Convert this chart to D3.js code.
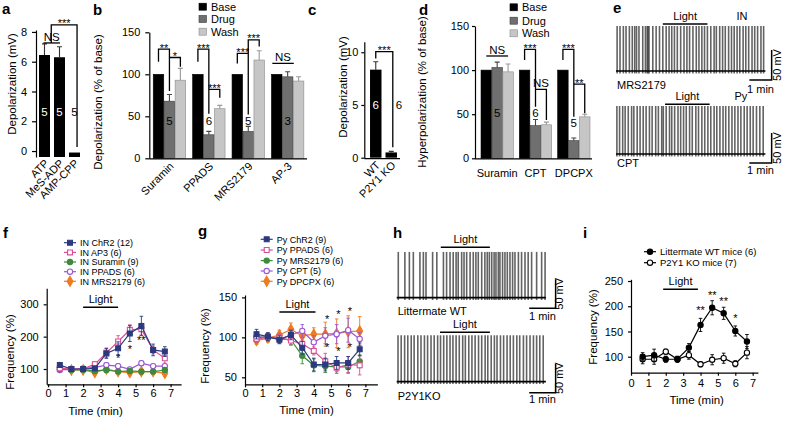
<!DOCTYPE html>
<html><head><meta charset="utf-8">
<script src="https://cdn.jsdelivr.net/npm/d3@7"></script>
<style>
body{margin:0;background:#fff;}
svg{display:block;font-family:Arial,"Liberation Sans",Helvetica,sans-serif;}
</style></head><body>
<svg id="fig" width="788" height="421"></svg>
<script>
// ---------------- DATA ----------------
// panel a
const aCategories = ["ATP", "MeS-ADP", "AMP-CPP"];
const aValues = [6.45, 6.3, -0.1];
const aErrors = [0.75, 0.7, 0];
const aN = [5, 5, 5];
const aTicks = [0, 2, 4, 6, 8];
// panel b
const conditions = ["Base", "Drug", "Wash"];
const bGroups = ["Suramin", "PPADS", "MRS2179", "AP-3"];
const bValues = [[100, 68, 93], [100, 28, 59], [100, 32, 117], [100, 97, 92]];
const bErrors = [[0, 8, 14], [0, 4, 4], [0, 6, 11], [0, 6, 5]];
const bN = [5, 6, 5, 3];
const bTicks = [0, 50, 100, 150];
// panel c
const cCategories = ["WT", "P2Y1 KO"];
const cValues = [8.35, 0.5];
const cErrors = [0.75, 0.1];
const cN = [6, 6];
const cTicks = [0, 5, 10];
// panel d
const dGroups = ["Suramin", "CPT", "DPCPX"];
const dValues = [[100, 103, 98], [100, 37, 38], [100, 20, 47]];
const dErrors = [[0, 6, 9], [0, 7, 3], [0, 3, 3]];
const dN = [5, 6, 5];
const dTicks = [0, 50, 100, 150];
// significance brackets (data units; s = condition index within group)
const aBrackets = [
  {s1: -0.07, s2: 1.03, top: 7.26, label: "NS"},
  {s1: 0.45, s2: 2.17, top: 8.47, b1: 7.26, b2: 0.27, label: "***"}
];
const bBrackets = [
  {g: 0, s1: 0, s2: 1, top: 130, b1: 115, b2: 80, label: "**"},
  {g: 0, s1: 1, s2: 2, top: 120, b1: 120, b2: 109, label: "*"},
  {g: 1, s1: 0, s2: 1, top: 130, b1: 115, b2: 53, label: "***"},
  {g: 1, s1: 1, s2: 2, top: 82, b1: 82, b2: 72, label: "***"},
  {g: 2, s1: 0, s2: 1, top: 125, b1: 113, b2: 52, label: "***"},
  {g: 2, s1: 1, s2: 2, top: 141, b1: 125, b2: 133, label: "***"},
  {g: 3, s1: -0.4, s2: 1.56, top: 113, label: "NS"}
];
const cBrackets = [{s1: 0, s2: 1.1, top: 10.05, b1: 9.4, b2: 1.0, label: "***"}];
const dBrackets = [
  {g: 0, s1: 0, s2: 2, top: 116, label: "NS"},
  {g: 1, s1: 0, s2: 1, top: 123.6, b1: 111.5, b2: 58.5, label: "***"},
  {g: 1, s1: 1, s2: 2, top: 78.2, b1: 78.2, b2: 43.4, label: "NS"},
  {g: 2, s1: 0, s2: 1, top: 123.6, b1: 111.5, b2: 47, label: "***"},
  {g: 2, s1: 1, s2: 2, top: 84.2, b1: 84.2, b2: 51, label: "**"}
];

// time course panels
const timePoints = [0.67, 1.33, 2, 2.67, 3.33, 4, 4.67, 5.33, 6, 6.67];
const timeTicks = [0, 1, 2, 3, 4, 5, 6, 7];
const fNames = ["IN ChR2 (12)", "IN AP3 (6)", "IN Suramin (9)", "IN PPADS (6)", "IN MRS2179 (6)"];
const fValues = [
  [112, 100, 100, 102, 148, 164, 210, 233, 159, 154],
  [102, 100, 100, 115, 150, 185, 221, 223, 159, 133],
  [100, 97, 97, 94, 97, 92, 94, 92, 92, 97],
  [97, 99, 102, 105, 112, 109, 99, 118, 109, 109],
  [105, 97, 97, 89, 100, 92, 89, 92, 92, 87]
];
const fErrors = [
  [6, 5, 5, 6, 15, 20, 25, 30, 18, 15],
  [6, 5, 5, 8, 15, 18, 15, 18, 12, 15],
  [5, 5, 5, 6, 6, 6, 6, 6, 6, 6],
  [6, 5, 5, 6, 8, 8, 6, 8, 6, 6],
  [6, 5, 5, 6, 8, 6, 10, 8, 8, 10]
];
const fStars = [{t: 4, v: 135, s: "*"}, {t: 4.67, v: 164, s: "*"}, {t: 5.33, v: 190, s: "**"}];
const gNames = ["Py ChR2 (9)", "Py PPADS (6)", "Py MRS2179 (6)", "Py CPT (5)", "Py DPCPX (6)"];
const gValues = [
  [104, 101, 97, 103, 87, 66, 66, 68, 68, 85],
  [98, 100, 100, 96, 92, 83, 70, 62, 66, 65],
  [100, 100, 98, 97, 77, 65, 64, 63, 63, 70],
  [101, 100, 98, 103, 108, 94, 102, 104, 109, 98],
  [96, 99, 103, 110, 102, 104, 104, 105, 107, 108]
];
const gErrors = [
  [6, 5, 5, 6, 8, 8, 8, 8, 8, 8],
  [5, 5, 5, 6, 8, 5, 10, 5, 10, 12],
  [6, 5, 5, 6, 10, 8, 8, 8, 8, 8],
  [6, 5, 5, 6, 8, 8, 10, 12, 15, 8],
  [5, 5, 6, 8, 8, 8, 15, 18, 20, 18]
];
const gStars = [
  {t: 4.77, v: 124, s: "*"}, {t: 5.43, v: 130, s: "*"}, {t: 6.1, v: 133, s: "*"},
  {t: 4.77, v: 88, s: "*"}, {t: 5.43, v: 83, s: "*"}, {t: 6.1, v: 88, s: "*"}
];
const iNames = ["Littermate WT mice (6)", "P2Y1 KO mice (7)"];
const iValues = [
  [100, 103, 95, 95, 118, 163, 197, 186, 151, 130],
  [95, 95, 110, 95, 103, 85, 94, 97, 86, 108]
];
const iErrors = [
  [8, 12, 6, 6, 8, 13, 14, 12, 10, 14],
  [9, 10, 5, 5, 8, 5, 10, 10, 6, 12]
];
const iStars = [{t: 4, v: 194, s: "**"}, {t: 4.67, v: 224, s: "**"}, {t: 5.33, v: 212, s: "**"}, {t: 6, v: 178, s: "*"}];

// spike times (min) of the recordings
const eTopSpikes = [0.05,0.18,0.33,0.45,0.6,0.73,0.84,0.92,1.03,1.2,1.32,1.4,1.44,1.48,1.65,1.8,1.95,2.1,2.25,2.38,2.5,2.62,2.75,2.9,3.05,3.18,3.3,3.45,3.6,3.72,3.85,3.97,4.1,4.25,4.4,4.5,4.65,4.78,4.9,5.05,5.18,5.3,5.43,5.55,5.7,5.82,5.95,6.1,6.22,6.35,6.5,6.62];
const eBotSpikes = [0.04,0.16,0.3,0.41,0.55,0.7,0.8,0.95,1.08,1.22,1.35,1.5,1.62,1.78,1.9,2.05,2.12,2.25,2.4,2.5,2.63,2.78,2.9,3.03,3.15,3.3,3.42,3.58,3.7,3.85,3.98,4.12,4.25,4.4,4.52,4.66,4.8,4.92,5.06,5.2,5.33,5.47,5.6,5.75,5.88,6.02,6.15,6.3,6.45,6.6];
const hTopSpikes = [0.06,0.31,0.48,0.63,0.88,1.01,1.11,1.36,1.52,1.77,1.89,2.02,2.14,2.25,2.33,2.46,2.55,2.65,2.78,2.9,3.0,3.09,3.22,3.34,3.43,3.51,3.6,3.69,3.76,3.85,3.91,4.01,4.1,4.19,4.29,4.39,4.48,4.61,4.73,4.86,4.98,5.11,5.3,5.49,5.62];
const hBotSpikes = [0.05,0.17,0.3,0.42,0.55,0.66,0.8,0.92,1.05,1.17,1.3,1.42,1.55,1.66,1.78,1.9,2.02,2.13,2.25,2.37,2.5,2.6,2.73,2.85,2.97,3.1,3.22,3.35,3.45,3.58,3.7,3.8,3.93,4.05,4.18,4.3,4.42,4.55,4.66,4.8,4.92,5.05,5.18,5.3,5.42,5.55];

// ---------------- STYLE ----------------
const condFill = {Base: "#000", Drug: "#6f6f6f", Wash: "#c6c6c6"};
const condStroke = {Base: "#000", Drug: "#3a3a3a", Wash: "#8a8a8a"};
const condErr = {Base: "#222", Drug: "#444", Wash: "#999"};
const fColors = ["#2b3a7e", "#d84f98", "#3d8b3d", "#9b57d4", "#ef7b22"];
const fShapes = ["squareF", "squareO", "circleF", "circleO", "diamondF"];
const gColors = ["#2b3a7e", "#d84f98", "#3d8b3d", "#9b57d4", "#ef7b22"];
const gShapes = ["squareF", "squareO", "circleF", "circleO", "diamondF"];
const iColors = ["#000", "#000"];
const iShapes = ["circleF", "circleO"];

const svg = d3.select("#fig");
const TICK_FS = 11;

function styleAxis(sel, fs) {
  sel.attr("font-family", null).attr("font-size", null);
  sel.selectAll("text").attr("font-size", fs).attr("fill", "#000");
  sel.select(".domain").attr("stroke", "#000").attr("stroke-width", 1.2);
  sel.selectAll(".tick line").attr("stroke", "#000").attr("stroke-width", 1.2);
}
function letter(t, x, y) {
  svg.append("text").attr("x", x).attr("y", y).attr("font-size", 15).attr("font-weight", "bold").text(t);
}
function yTitle(t, x, yc, fs) {
  svg.append("text").attr("transform", `translate(${x},${yc}) rotate(-90)`)
    .attr("text-anchor", "middle").attr("font-size", fs).text(t);
}
function drawBracket(g, b, px, y) {
  const x1 = px(b), x2 = px2(b, px);
  const yt = y(b.top);
  let d = `M${x1},${yt}H${x2}`;
  if (b.b1 !== undefined && b.b1 !== b.top) d = `M${x1},${y(b.b1)}V${yt}H${x2}`;
  if (b.b2 !== undefined) d += `V${y(b.b2)}`;
  g.append("path").attr("d", d).attr("fill", "none").attr("stroke", "#000").attr("stroke-width", 1.3);
  const isStar = b.label.indexOf("*") >= 0;
  g.append("text").attr("x", (x1 + x2) / 2).attr("y", isStar ? yt + 2.5 : yt - 2)
    .attr("text-anchor", "middle").attr("font-size", isStar ? 11 : 11.5).text(b.label);
}
function px2(b, px) { return px({g: b.g, s1: b.s2}); }

// ---------- simple bar panels (a, c) ----------
function simpleBars(cfg) {
  const g = svg.append("g");
  const x = d3.scaleBand().domain(cfg.cats).range(cfg.xRange).paddingInner(cfg.padIn).paddingOuter(cfg.padOut);
  const y = d3.scaleLinear().domain(cfg.yDomain).range(cfg.yRange);
  const pos = i => x(cfg.cats[0]) + x.bandwidth() / 2 + i * x.step();
  const base = cfg.fromBottom ? cfg.yRange[0] : y(0);
  g.selectAll("rect").data(cfg.values).join("rect")
    .attr("x", (d, i) => x(cfg.cats[i])).attr("width", x.bandwidth())
    .attr("y", d => Math.min(y(d), base)).attr("height", d => Math.abs(base - y(d)))
    .attr("fill", "#000");
  cfg.values.forEach((v, i) => {
    if (cfg.errors[i] > 0) {
      const cx = pos(i);
      g.append("path").attr("d", `M${cx},${y(v)}V${y(v + cfg.errors[i])}M${cx - 2.5},${y(v + cfg.errors[i])}H${cx + 2.5}`)
        .attr("stroke", "#333").attr("stroke-width", 1.1).attr("fill", "none");
    }
  });
  const ax = g.append("g").attr("transform", `translate(${cfg.xRange[0]},0)`)
    .call(d3.axisLeft(y).tickValues(cfg.ticks).tickSize(cfg.tickSize).tickPadding(cfg.tickPad).tickSizeOuter(0));
  styleAxis(ax, TICK_FS);
  if (cfg.xAxis) {
    g.append("line").attr("x1", cfg.xRange[0]).attr("x2", cfg.xAxisEnd).attr("y1", y(0) + 1).attr("y2", y(0) + 1)
      .attr("stroke", "#000").attr("stroke-width", 1.2);
  }
  cfg.nLabels.forEach(n => {
    g.append("text").attr("x", pos(n.i)).attr("y", y(n.v) + 4).attr("text-anchor", "middle")
      .attr("font-size", 11.5).attr("fill", n.c).text(n.t);
  });
  cfg.cats.forEach((c, i) => {
    g.append("text").attr("transform", `translate(${pos(i) + 5},${cfg.labelY}) rotate(-45)`)
      .attr("text-anchor", "end").attr("font-size", TICK_FS).text(c);
  });
  cfg.brackets.forEach(b => drawBracket(g, b, bb => pos(bb.s1), y));
}

// ---------- grouped bar panels (b, d) ----------
function groupedBars(cfg) {
  const g = svg.append("g");
  const xg = d3.scaleBand().domain(cfg.groups).range(cfg.xRange).paddingInner(cfg.padIn).paddingOuter(cfg.padOut);
  const xs = d3.scaleBand().domain(conditions).range([0, xg.bandwidth()]).paddingInner(0.04);
  const y = d3.scaleLinear().domain(cfg.yDomain).range(cfg.yRange);
  const pos = (gi, s) => xg(cfg.groups[gi]) + xs(conditions[0]) + xs.bandwidth() / 2 + s * xs.step();
  cfg.groups.forEach((grp, gi) => {
    conditions.forEach((c, si) => {
      const v = cfg.values[gi][si];
      g.append("rect").attr("x", xg(grp) + xs(c)).attr("width", xs.bandwidth())
        .attr("y", y(v)).attr("height", y(0) - y(v))
        .attr("fill", condFill[c]).attr("stroke", condStroke[c]).attr("stroke-width", 0.6);
      const e = cfg.errors[gi][si];
      if (e > 0) {
        const cx = pos(gi, si);
        g.append("path").attr("d", `M${cx},${y(v)}V${y(v + e)}M${cx - 2.5},${y(v + e)}H${cx + 2.5}`)
          .attr("stroke", condErr[c]).attr("stroke-width", 1.1).attr("fill", "none");
      }
    });
  });
  const ax = g.append("g").attr("transform", `translate(${cfg.xRange[0]},0)`)
    .call(d3.axisLeft(y).tickValues(cfg.ticks).tickSize(cfg.tickSize).tickPadding(cfg.tickPad).tickSizeOuter(0));
  styleAxis(ax, TICK_FS);
  g.append("line").attr("x1", cfg.xRange[0]).attr("x2", cfg.xAxisEnd).attr("y1", y(0) + 0.6).attr("y2", y(0) + 0.6)
    .attr("stroke", "#000").attr("stroke-width", 1.2);
  cfg.nLabels.forEach((n, gi) => {
    g.append("text").attr("x", pos(gi, 1)).attr("y", y(cfg.nY[gi]) + 4).attr("text-anchor", "middle")
      .attr("font-size", 11.5).text(n);
  });
  cfg.groups.forEach((grp, gi) => {
    if (cfg.rotate) {
      g.append("text").attr("transform", `translate(${pos(gi, 1) + 5},${cfg.labelY}) rotate(-45)`)
        .attr("text-anchor", "end").attr("font-size", TICK_FS).text(grp);
    } else {
      g.append("text").attr("x", pos(gi, 1)).attr("y", cfg.labelY).attr("text-anchor", "middle")
        .attr("font-size", TICK_FS).text(grp);
    }
  });
  cfg.brackets.forEach(b => drawBracket(g, b, bb => pos(bb.g, bb.s1), y));
  // legend
  conditions.forEach((c, i) => {
    const ly = cfg.legendY[i];
    g.append("rect").attr("x", cfg.legendX).attr("y", ly - 3.5).attr("width", 7.5).attr("height", 7)
      .attr("fill", condFill[c]).attr("stroke", condStroke[c]).attr("stroke-width", 0.6);
    g.append("text").attr("x", cfg.legendX + 12).attr("y", ly + 4).attr("font-size", 11).text(c);
  });
}

// ---------- marker helper ----------
function marker(g, shape, color, x, y) {
  const filled = shape.endsWith("F");
  const type = shape.startsWith("square") ? d3.symbolSquare : shape.startsWith("circle") ? d3.symbolCircle : d3.symbolDiamond;
  const size = shape.startsWith("square") ? 24 : shape.startsWith("circle") ? 22 : 30;
  g.append("path").attr("d", d3.symbol().type(type).size(size)())
    .attr("transform", `translate(${x},${y})`)
    .attr("fill", filled ? color : "#fff").attr("stroke", color).attr("stroke-width", 1.1);
}

// ---------- time-course panels ----------
function linePanel(cfg) {
  const g = svg.append("g");
  const x = d3.scaleLinear().domain(cfg.xDomain).range(cfg.xRange);
  const y = d3.scaleLinear().domain(cfg.yDomain).range(cfg.yRange);
  const xa = g.append("g").attr("transform", `translate(0,${cfg.yRange[0]})`)
    .call(d3.axisBottom(x).tickValues(timeTicks).tickSize(3).tickPadding(cfg.xPad).tickSizeOuter(0));
  styleAxis(xa, TICK_FS);
  const ya = g.append("g").attr("transform", `translate(${cfg.xRange[0]},0)`)
    .call(d3.axisLeft(y).tickValues(cfg.yTicks).tickSize(3).tickPadding(5).tickSizeOuter(0));
  styleAxis(ya, TICK_FS);
  // light bar
  g.append("line").attr("x1", x(cfg.light[0])).attr("x2", x(cfg.light[1]))
    .attr("y1", y(cfg.lightV)).attr("y2", y(cfg.lightV)).attr("stroke", "#000").attr("stroke-width", 1.5);
  g.append("text").attr("x", (x(cfg.light[0]) + x(cfg.light[1])) / 2).attr("y", y(cfg.lightV) - 4)
    .attr("text-anchor", "middle").attr("font-size", 11).text("Light");
  // series (last drawn first so the first series is on top)
  for (let k = cfg.values.length - 1; k >= 0; k--) {
    const col = cfg.colors[k];
    const vals = cfg.values[k], errs = cfg.errors[k];
    const sg = g.append("g");
    vals.forEach((v, i) => {
      const cx = x(timePoints[i]);
      sg.append("path").attr("d", `M${cx},${y(v - errs[i])}V${y(v + errs[i])}M${cx - 1.8},${y(v - errs[i])}H${cx + 1.8}M${cx - 1.8},${y(v + errs[i])}H${cx + 1.8}`)
        .attr("stroke", col).attr("stroke-width", 0.9).attr("fill", "none");
    });
    sg.append("path").datum(vals)
      .attr("d", d3.line().x((d, i) => x(timePoints[i])).y(d => y(d)))
      .attr("fill", "none").attr("stroke", col).attr("stroke-width", 1.2);
    vals.forEach((v, i) => marker(sg, cfg.shapes[k], col, x(timePoints[i]), y(v)));
  }
  cfg.stars.forEach(s => {
    g.append("text").attr("x", x(s.t)).attr("y", y(s.v) + 4.5).attr("text-anchor", "middle")
      .attr("font-size", 11).text(s.s);
  });
  // legend
  cfg.names.forEach((n, k) => {
    const ly = cfg.legendY[k];
    g.append("line").attr("x1", cfg.legendX - 6).attr("x2", cfg.legendX + 6).attr("y1", ly).attr("y2", ly)
      .attr("stroke", cfg.colors[k]).attr("stroke-width", 1.2);
    marker(g, cfg.shapes[k], cfg.colors[k], cfg.legendX, ly);
    g.append("text").attr("x", cfg.legendX + 10).attr("y", ly + 3.3).attr("font-size", cfg.legendFs).text(n);
  });
  g.append("text").attr("x", cfg.xTitle[0]).attr("y", cfg.xTitle[1]).attr("text-anchor", "middle")
    .attr("font-size", 11.5).text("Time (min)");
}

// ---------- recordings ----------
const RESTING = -65;
function tracePanel(cfg) {
  const g = svg.append("g");
  const x = d3.scaleLinear().domain([0, cfg.duration]).range([cfg.x0, cfg.x0 + cfg.duration * cfg.pxPerMin]);
  const y = d3.scaleLinear().domain([RESTING, cfg.peak]).range([cfg.baseY, cfg.baseY - (cfg.peak - RESTING) * cfg.pxPerMV]);
  g.selectAll("line.spk").data(cfg.spikes).join("line").attr("class", "spk")
    .attr("x1", d => x(d)).attr("x2", d => x(d))
    .attr("y1", y(RESTING - 4)).attr("y2", y(cfg.peak))
    .attr("stroke", "#3c3c3c").attr("stroke-opacity", 0.8).attr("stroke-width", 1.6);
  g.append("line").attr("x1", x(0)).attr("x2", x(cfg.duration)).attr("y1", y(RESTING)).attr("y2", y(RESTING))
    .attr("stroke", "#000").attr("stroke-width", 1.7);
  // light
  g.append("line").attr("x1", x(cfg.light[0])).attr("x2", x(cfg.light[1]))
    .attr("y1", y(cfg.lightMV)).attr("y2", y(cfg.lightMV)).attr("stroke", "#000").attr("stroke-width", 1.4);
  g.append("text").attr("x", (x(cfg.light[0]) + x(cfg.light[1])) / 2).attr("y", y(cfg.lightMV) - 4)
    .attr("text-anchor", "middle").attr("font-size", 11).attr("fill", "#000").text("Light");
  if (cfg.tag) {
    g.append("text").attr("x", x(cfg.tagT)).attr("y", y(cfg.lightMV) - 4).attr("text-anchor", "middle")
      .attr("font-size", 11).text(cfg.tag);
  }
  // scale bar 1 min x 50 mV
  const sx = x(cfg.scaleEnd), sy = y(cfg.scaleBottom);
  g.append("path").attr("d", `M${x(cfg.scaleEnd - 1)},${sy}H${sx}V${y(cfg.scaleBottom + 50)}`)
    .attr("fill", "none").attr("stroke", "#000").attr("stroke-width", 1.5);
  g.append("text").attr("transform", `translate(${sx + cfg.mvDx},${(sy + y(cfg.scaleBottom + 50)) / 2}) rotate(-90)`)
    .attr("text-anchor", "middle").attr("font-size", 11).text("50 mV");
  g.append("text").attr("x", (x(cfg.scaleEnd - 1) + sx) / 2).attr("y", sy + cfg.minDy).attr("text-anchor", "middle")
    .attr("font-size", 11).text("1 min");
  g.append("text").attr("x", x(0) + 1).attr("y", cfg.baseY + cfg.nameDy).attr("font-size", 11).text(cfg.name);
}

// ================= DRAW =================
letter("a", 2, 14); letter("b", 93, 15); letter("c", 308, 15); letter("d", 419, 15); letter("e", 613, 13);
letter("f", 3, 238); letter("g", 198, 236); letter("h", 393, 238); letter("i", 583, 238);

simpleBars({cats: aCategories, values: aValues, errors: aErrors, xRange: [36, 83], padIn: 0.267, padOut: 0.2,
  yDomain: [-0.4, 8.13], yRange: [157, 30], ticks: aTicks, tickSize: 4, tickPad: 5, fromBottom: true,
  nLabels: aN.map((n, i) => ({i: i, v: 2.62, t: n, c: i < 2 ? "#fff" : "#000"})),
  labelY: 164, brackets: aBrackets});
yTitle("Depolarization (mV)", 15.5, 84, 11.5);

groupedBars({groups: bGroups, values: bValues, errors: bErrors, xRange: [149.3, 307.8], padIn: 0.178, padOut: 0.1,
  yDomain: [0, 150], yRange: [158.3, 32.3], ticks: bTicks, tickSize: 4, tickPad: 5, xAxisEnd: 307,
  nLabels: bN, nY: [44, 44, 44, 44], rotate: true, labelY: 167, brackets: bBrackets,
  legendX: 199, legendY: [6.7, 19, 31.7]});
yTitle("Depolarization (% of base)", 102.3, 102, 11.5);

simpleBars({cats: cCategories, values: cValues, errors: cErrors, xRange: [364.3, 402.7], padIn: 0.26, padOut: 0.37,
  yDomain: [0, 11], yRange: [157.7, 41.7], ticks: cTicks, tickSize: 3, tickPad: 3, fromBottom: false,
  xAxis: true, xAxisEnd: 400,
  nLabels: [{i: 0, v: 5, t: cN[0], c: "#fff"}, {i: 1.5, v: 5, t: cN[1], c: "#000"}],
  labelY: 166, brackets: cBrackets});
yTitle("Depolarization (mV)", 347.3, 87, 11.5);

groupedBars({groups: dGroups, values: dValues, errors: dErrors, xRange: [475, 596], padIn: 0.157, padOut: 0.157,
  yDomain: [0, 150], yRange: [158.3, 26], ticks: dTicks, tickSize: 3, tickPad: 3, xAxisEnd: 592,
  nLabels: dN, nY: [51.4, 51.4, 40], rotate: false, labelY: 177, brackets: dBrackets,
  legendX: 510, legendY: [7.3, 20.7, 33.3]});
yTitle("Hyperpolarization (% of base)", 425.7, 92, 11.5);

tracePanel({spikes: eTopSpikes, x0: 616, pxPerMin: 22.3, duration: 6.7, baseY: 71, pxPerMV: 0.6, peak: 10,
  light: [2.1, 4.1], lightMV: 13.3, tag: "IN", tagT: 5.65, scaleEnd: 6.98, scaleBottom: -80,
  mvDx: 9, minDy: 13, name: "MRS2179", nameDy: 18});
tracePanel({spikes: eBotSpikes, x0: 616, pxPerMin: 22.3, duration: 6.7, baseY: 154, pxPerMV: 0.6, peak: 15,
  light: [2.2, 4.2], lightMV: 17.8, tag: "Py", tagT: 5.6, scaleEnd: 6.98, scaleBottom: -80,
  mvDx: 9, minDy: 11, name: "CPT", nameDy: 12.7});
tracePanel({spikes: hTopSpikes, x0: 396.7, pxPerMin: 26.4, duration: 5.65, baseY: 297.7, pxPerMV: 0.58, peak: 14,
  light: [1.67, 3.53], lightMV: 21.9, scaleEnd: 6.02, scaleBottom: -83.3,
  mvDx: 7, minDy: 11.7, name: "Littermate WT", nameDy: 17.3});
tracePanel({spikes: hBotSpikes, x0: 396.7, pxPerMin: 26.4, duration: 5.65, baseY: 381.7, pxPerMV: 0.58, peak: 15,
  light: [1.64, 3.53], lightMV: 20.2, scaleEnd: 6.02, scaleBottom: -84,
  mvDx: 7, minDy: 10.3, name: "P2Y1KO", nameDy: 18.3});

linePanel({values: fValues, errors: fErrors, names: fNames, colors: fColors, shapes: fShapes, stars: fStars,
  xDomain: [-0.08, 7.6], xRange: [46.7, 181.1], yDomain: [52.7, 349.5], yRange: [384.3, 288.3],
  yTicks: [100, 200, 300], xPad: 2, light: [2, 4], lightV: 290.7,
  legendX: 70, legendY: [242.7, 252.4, 262, 271.7, 281.3], legendFs: 9, xTitle: [95.5, 414.5]});
yTitle("Frequency (%)", 14, 352, 11.5);

linePanel({values: gValues, errors: gErrors, names: gNames, colors: gColors, shapes: gShapes, stars: gStars,
  xDomain: [0, 7.7], xRange: [245, 377.4], yDomain: [41.25, 153], yRange: [384.3, 295],
  yTicks: [50, 100, 150], xPad: 2, light: [2, 4.1], lightV: 131.6,
  legendX: 266.7, legendY: [239.3, 250, 260.6, 271, 281.3], legendFs: 9, xTitle: [306.5, 414]});
yTitle("Frequency (%)", 209, 346, 11.5);

linePanel({values: iValues, errors: iErrors, names: iNames, colors: iColors, shapes: iShapes, stars: iStars,
  xDomain: [0, 7.3], xRange: [631, 757.9], yDomain: [68.3, 253.4], yRange: [372.7, 279.3],
  yTicks: [100, 150, 200, 250], xPad: 3.5, light: [1.85, 3.85], lightV: 233.6,
  legendX: 650, legendY: [251.7, 262.7], legendFs: 9.5, xTitle: [696.7, 404]});
yTitle("Frequency (%)", 597.3, 327, 11.5);
</script></body></html>
